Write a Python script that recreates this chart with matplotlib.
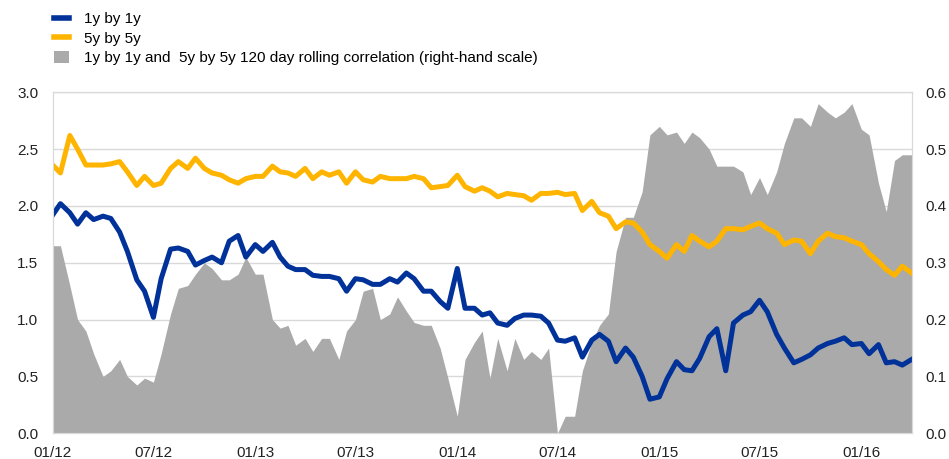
import matplotlib
matplotlib.use('Agg')
import matplotlib.pyplot as plt
import matplotlib.dates as mdates
from matplotlib.lines import Line2D
from matplotlib.patches import Patch
import pandas as pd

plt.rcParams['font.family'] = ['Liberation Sans', 'DejaVu Sans']
plt.rcParams['font.size'] = 11

# semi-monthly readings, 01/2012 .. 04/2016
dates = pd.date_range('2012-01-01', '2016-04-01', freq='SMS')

# 1y by 1y (left scale)
one_by_one = [
    1.92, 2.02, 1.94, 1.84, 1.94, 1.88, 1.91, 1.89, 1.77, 1.60, 1.35, 1.25,
    1.02, 1.36, 1.62, 1.63, 1.60, 1.48, 1.52, 1.55, 1.50, 1.69, 1.74, 1.55,
    # 2013
    1.66, 1.60, 1.68, 1.55, 1.47, 1.44, 1.44, 1.39, 1.38, 1.38, 1.36, 1.25,
    1.36, 1.35, 1.31, 1.31, 1.36, 1.33, 1.41, 1.36, 1.25, 1.25, 1.16, 1.10,
    # 2014
    1.45, 1.10, 1.10, 1.04, 1.06, 0.97, 0.95, 1.01, 1.04, 1.04, 1.03, 0.97,
    0.82, 0.81, 0.84, 0.67, 0.82, 0.87, 0.81, 0.63, 0.75, 0.67, 0.50, 0.30,
    # 2015
    0.32, 0.48, 0.63, 0.56, 0.55, 0.66, 0.85, 0.92, 0.55, 0.97, 1.04, 1.07,
    1.17, 1.07, 0.87, 0.75, 0.62, 0.65, 0.69, 0.75, 0.79, 0.81, 0.84, 0.78,
    # 2016
    0.79, 0.70, 0.78, 0.62, 0.63, 0.60, 0.65,
]

# 5y by 5y (left scale)
five_by_five = [
    2.36, 2.29, 2.62, 2.50, 2.36, 2.36, 2.36, 2.37, 2.39, 2.30, 2.18, 2.26,
    2.18, 2.20, 2.33, 2.39, 2.33, 2.42, 2.33, 2.29, 2.27, 2.23, 2.20, 2.24,
    # 2013
    2.26, 2.26, 2.35, 2.30, 2.29, 2.26, 2.33, 2.24, 2.30, 2.27, 2.30, 2.20,
    2.30, 2.23, 2.21, 2.26, 2.24, 2.24, 2.24, 2.26, 2.24, 2.16, 2.17, 2.18,
    # 2014
    2.27, 2.17, 2.13, 2.16, 2.13, 2.08, 2.11, 2.10, 2.09, 2.05, 2.11, 2.11,
    2.12, 2.10, 2.11, 1.96, 2.04, 1.94, 1.91, 1.80, 1.86, 1.85, 1.77, 1.66,
    # 2015
    1.60, 1.54, 1.66, 1.60, 1.74, 1.69, 1.64, 1.69, 1.80, 1.80, 1.79, 1.82,
    1.85, 1.80, 1.76, 1.66, 1.70, 1.69, 1.58, 1.69, 1.76, 1.73, 1.72, 1.69,
    # 2016
    1.66, 1.58, 1.51, 1.44, 1.39, 1.47, 1.41,
]

# 120 day rolling correlation (right scale)
correlation = [
    0.33, 0.33, 0.26, 0.20, 0.18, 0.14, 0.10, 0.11, 0.13, 0.10, 0.085, 0.097,
    0.09, 0.14, 0.21, 0.255, 0.26, 0.28, 0.30, 0.29, 0.27, 0.27, 0.28, 0.31,
    # 2013
    0.28, 0.28, 0.20, 0.185, 0.19, 0.155, 0.167, 0.144, 0.167, 0.167, 0.13, 0.18,
    0.20, 0.25, 0.255, 0.20, 0.21, 0.24, 0.215, 0.195, 0.19, 0.19, 0.15, 0.097,
    # 2014
    0.03, 0.13, 0.16, 0.18, 0.097, 0.167, 0.11, 0.167, 0.13, 0.144, 0.13, 0.15,
    0.0, 0.03, 0.03, 0.11, 0.16, 0.19, 0.21, 0.32, 0.38, 0.38, 0.425, 0.525,
    # 2015
    0.54, 0.525, 0.53, 0.51, 0.53, 0.52, 0.50, 0.47, 0.47, 0.47, 0.46, 0.42,
    0.45, 0.42, 0.46, 0.51, 0.555, 0.555, 0.54, 0.58, 0.565, 0.555, 0.565, 0.58,
    # 2016
    0.535, 0.525, 0.44, 0.39, 0.48, 0.49, 0.49,
]

labels = ['1y by 1y', '5y by 5y',
          '1y by 1y and  5y by 5y 120 day rolling correlation (right-hand scale)']
blue = '#003299'
yellow = '#FFB400'
grey = '#AAAAAA'
gridc = '#D9D9D9'

fig = plt.figure(figsize=(9.49, 4.59), dpi=100)
ax = fig.add_axes([0.0555, 0.056, 0.9052, 0.743])
ax2 = ax.twinx()

# grey area + grid sit on the right axis, lines on top
ax.set_zorder(ax2.get_zorder() + 1)
ax.patch.set_visible(False)

ax2.fill_between(dates, correlation, 0, color=grey, lw=0, zorder=2)
ax2.set_ylim(0, 0.6)
ax2.set_yticks([0.0, 0.1, 0.2, 0.3, 0.4, 0.5, 0.6])
ax2.yaxis.set_major_formatter(matplotlib.ticker.FormatStrFormatter('%.1f'))
ax2.set_axisbelow(True)
ax2.grid(True, color=gridc, lw=1)

ax.plot(dates, five_by_five, color=yellow, lw=3.6, solid_joinstyle='round')
ax.plot(dates, one_by_one, color=blue, lw=3.6, solid_joinstyle='round')
ax.set_ylim(0, 3.0)
ax.set_yticks([0.0, 0.5, 1.0, 1.5, 2.0, 2.5, 3.0])
ax.yaxis.set_major_formatter(matplotlib.ticker.FormatStrFormatter('%.1f'))

ax.set_xlim(pd.Timestamp('2012-01-01'), pd.Timestamp('2016-04-01'))
ax.xaxis.set_major_locator(mdates.MonthLocator(bymonth=[1, 7]))
ax.xaxis.set_major_formatter(mdates.DateFormatter('%m/%y'))

for a in (ax, ax2):
    for s in a.spines.values():
        s.set_color(gridc)
    a.tick_params(length=0, colors='#222222')
ax.tick_params(axis='y', pad=10.5)
ax.tick_params(axis='x', pad=9.5)
ax2.tick_params(axis='y', pad=9.5)

handles = [Line2D([], [], color=blue, lw=4),
           Line2D([], [], color=yellow, lw=4),
           Patch(color=grey, lw=0)]
fig.legend(handles, labels, loc='upper left', bbox_to_anchor=(0.057, 0.974),
           frameon=False, handlelength=1.0, handleheight=0.8,
           handletextpad=0.98, labelspacing=0.36, borderpad=0, borderaxespad=0)

fig.savefig('out.png', dpi=100)
